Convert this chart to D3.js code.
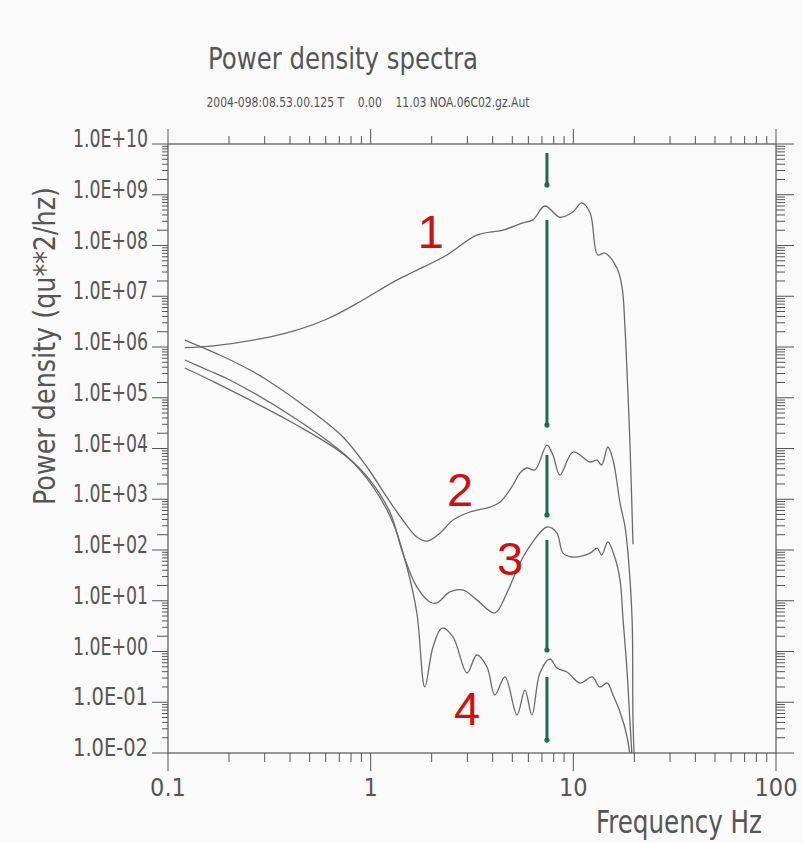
<!DOCTYPE html>
<html>
<head>
<meta charset="utf-8">
<script src="https://cdn.jsdelivr.net/npm/d3@7"></script>
<style>
  body { margin: 0; background: #fafafa; }
  text { font-family: "Liberation Sans Narrow", "DejaVu Sans Condensed", "Liberation Sans", sans-serif; fill: #555; }
</style>
</head>
<body>
<script>
// values (Hz, qu**2/hz)
var freq1 = [0.121, 0.167, 0.284, 0.414, 0.609, 0.885, 1.29, 1.62, 2.38, 3.34, 4.49, 5.64, 6.32, 7.24, 8.59, 9.96, 11.0, 12.1, 13.2, 14.3, 16.4, 17.4, 18.0, 18.6, 19.0, 19.7];
var psd1  = [9.7e5, 1.05e6, 1.44e6, 2.05e6, 3.56e6, 7.8e6, 1.9e7, 3.0e7, 6.5e7, 1.6e8, 2.0e8, 2.8e8, 3.2e8, 6.0e8, 3.6e8, 4.6e8, 6.9e8, 4.4e8, 6.5e7, 7.1e7, 3.6e7, 1.5e7, 2.2e6, 1.2e5, 1.5e4, 130];

var freq2 = [0.121, 0.180, 0.254, 0.308, 0.502, 0.730, 0.959, 1.20, 1.44, 1.69, 1.90, 2.20, 2.55, 3.09, 3.88, 4.35, 5.04, 5.45, 5.90, 6.47, 7.41, 7.93, 8.59, 9.96, 12.1, 13.1, 13.8, 14.8, 15.7, 17.0, 18.0, 18.6, 19.5, 19.7, 20.1];
var psd2  = [1.37e6, 6.95e5, 3.52e5, 2.24e5, 5.74e4, 1.69e4, 4320, 1110, 390, 180, 150, 216, 390, 561, 703, 883, 1910, 3290, 4130, 3770, 1.17e4, 7450, 3010, 8530, 5420, 5930, 4730, 1.07e4, 5930, 843, 284, 87, 4.2, 0.045, 0.004];

var freq3 = [0.121, 0.161, 0.202, 0.414, 0.730, 0.992, 1.25, 1.44, 1.69, 1.96, 2.12, 2.46, 2.85, 3.34, 4.10, 4.70, 5.45, 6.25, 7.41, 8.30, 8.89, 9.96, 12.1, 13.1, 13.8, 14.8, 16.0, 17.0, 17.6, 18.4, 19.0, 19.7];
var psd3  = [5.55e5, 3.37e5, 2.24e5, 4.18e4, 8150, 2390, 536, 87, 18.7, 9.44, 9.03, 14.9, 16.3, 10.4, 5.74, 14.2, 55.4, 137, 284, 216, 87, 72.8, 87, 109, 79.6, 144, 72.8, 25.6, 4.2, 0.43, 0.045, 0.004];

var freq4 = [0.121, 0.161, 0.414, 0.764, 1.03, 1.29, 1.51, 1.69, 1.85, 2.03, 2.25, 2.55, 2.99, 3.34, 3.75, 4.10, 4.60, 5.27, 5.77, 6.25, 6.84, 7.67, 8.30, 9.30, 10.8, 12.4, 13.5, 14.7, 15.7, 17.0, 18.4, 19.5];
var psd4  = [3.86e5, 2.24e5, 3.18e4, 6810, 1740, 340, 46.2, 5.74, 0.20, 1.23, 2.90, 1.93, 0.377, 0.853, 0.495, 0.139, 0.315, 0.056, 0.174, 0.056, 0.377, 0.711, 0.473, 0.394, 0.239, 0.315, 0.20, 0.239, 0.139, 0.064, 0.021, 0.004];

var curveNames = ["1", "2", "3", "4"];
// where the red numbers sit (baseline centre): frequency, power density
var labelFreq = [1.98, 2.76, 4.87, 2.99];
var labelPsd  = [8.9e7, 736, 32, 0.0356];

// green marker at the 7 Hz peak, broken where the curves pass
var markerFreq = 7.41;
var markerLow  = [1.56e9, 2.9e4, 490, 1.07, 0.018];
var markerHigh = [6.65e9, 3.18e8, 7450, 157, 0.315];

var xTickValues = [0.1, 1, 10, 100];
var xTickLabels = ["0.1", "1", "10", "100"];
var yTickValues = [1e10, 1e9, 1e8, 1e7, 1e6, 1e5, 1e4, 1e3, 1e2, 1e1, 1e0, 1e-1, 1e-2];
var yTickLabels = ["1.0E+10", "1.0E+09", "1.0E+08", "1.0E+07", "1.0E+06", "1.0E+05", "1.0E+04",
                   "1.0E+03", "1.0E+02", "1.0E+01", "1.0E+00", "1.0E-01", "1.0E-02"];

var w = 803, h = 843;
var pLeft = 168, pRight = 776, pTop = 144, pBottom = 753;

var svg = d3.select("body")
            .append("svg")
            .attr("width", w)
            .attr("height", h);

var x = d3.scaleLog().domain([0.1, 100]).range([pLeft, pRight]);
var y = d3.scaleLog().domain([1e-2, 1e10]).range([pBottom, pTop]);

var axisColor = "#555";

// minor tick values (2..9 in every decade)
var xMinor = [];
[0.1, 1, 10].forEach(function(d) { for (var k = 2; k <= 9; k++) xMinor.push(d * k); });
var yMinor = [];
for (var e = -2; e < 10; e++) for (var k = 2; k <= 9; k++) yMinor.push(k * Math.pow(10, e));

// frame
svg.append("rect")
    .attr("x", pLeft).attr("y", pTop)
    .attr("width", pRight - pLeft).attr("height", pBottom - pTop)
    .attr("fill", "none")
    .attr("stroke", axisColor)
    .attr("stroke-width", 1.2);

var ticks = svg.append("g").attr("stroke", axisColor).attr("stroke-width", 1);

// bottom: ticks downward
ticks.selectAll(".xb").data(xMinor).enter().append("line")
    .attr("x1", d => x(d)).attr("x2", d => x(d))
    .attr("y1", pBottom).attr("y2", pBottom + 9);
ticks.selectAll(".xbm").data(xTickValues).enter().append("line")
    .attr("x1", d => x(d)).attr("x2", d => x(d))
    .attr("y1", pBottom).attr("y2", pBottom + 18);
// top: ticks upward
ticks.selectAll(".xt").data(xMinor).enter().append("line")
    .attr("x1", d => x(d)).attr("x2", d => x(d))
    .attr("y1", pTop).attr("y2", pTop - 8);
ticks.selectAll(".xtm").data(xTickValues).enter().append("line")
    .attr("x1", d => x(d)).attr("x2", d => x(d))
    .attr("y1", pTop).attr("y2", pTop - 15);
// left: ticks outward
ticks.selectAll(".yl").data(yMinor).enter().append("line")
    .attr("x1", pLeft).attr("x2", d => String(d)[0] === "2" ? pLeft - 11 : pLeft - 6)
    .attr("y1", d => y(d)).attr("y2", d => y(d));
ticks.selectAll(".ylm").data(yTickValues).enter().append("line")
    .attr("x1", pLeft).attr("x2", pLeft - 16)
    .attr("y1", d => y(d)).attr("y2", d => y(d));
// right: ticks outward
ticks.selectAll(".yr").data(yMinor).enter().append("line")
    .attr("x1", pRight).attr("x2", pRight + 9)
    .attr("y1", d => y(d)).attr("y2", d => y(d));
ticks.selectAll(".yrm").data(yTickValues).enter().append("line")
    .attr("x1", pRight).attr("x2", pRight + 18)
    .attr("y1", d => y(d)).attr("y2", d => y(d));

// tick labels
svg.selectAll(".ylab").data(yTickValues).enter().append("text")
    .attr("x", 148)
    .attr("y", d => y(d) + 3)
    .attr("text-anchor", "end")
    .attr("font-size", 24)
    .attr("textLength", 75).attr("lengthAdjust", "spacingAndGlyphs")
    .text((d, i) => yTickLabels[i]);

svg.selectAll(".xlab").data(xTickValues).enter().append("text")
    .attr("x", d => x(d))
    .attr("y", 796)
    .attr("text-anchor", "middle")
    .attr("font-size", 25)
    .text((d, i) => xTickLabels[i]);

// titles
svg.append("text")
    .attr("x", 343).attr("y", 69)
    .attr("text-anchor", "middle")
    .attr("font-size", 30)
    .attr("textLength", 270).attr("lengthAdjust", "spacingAndGlyphs")
    .text("Power density spectra");

svg.append("text")
    .attr("x", 368).attr("y", 107)
    .attr("text-anchor", "middle")
    .attr("font-size", 14)
    .attr("textLength", 323).attr("lengthAdjust", "spacingAndGlyphs")
    .style("white-space", "pre")
    .text("2004-098:08.53.00.125 T    0.00    11.03 NOA.06C02.gz.Aut");

svg.append("text")
    .attr("transform", "translate(55,346) rotate(-90)")
    .attr("text-anchor", "middle")
    .attr("font-size", 30)
    .attr("textLength", 318).attr("lengthAdjust", "spacingAndGlyphs")
    .text("Power density (qu**2/hz)");

svg.append("text")
    .attr("x", 679).attr("y", 833)
    .attr("text-anchor", "middle")
    .attr("font-size", 32)
    .attr("textLength", 166).attr("lengthAdjust", "spacingAndGlyphs")
    .text("Frequency Hz");

// curves
svg.append("clipPath").attr("id", "plotclip")
  .append("rect")
    .attr("x", pLeft).attr("y", pTop)
    .attr("width", pRight - pLeft).attr("height", pBottom - pTop);

var line = d3.line()
    .x(d => x(d[0]))
    .y(d => y(d[1]))
    .curve(d3.curveCatmullRom.alpha(0.5));

var series = [[freq1, psd1], [freq2, psd2], [freq3, psd3], [freq4, psd4]];

svg.append("g")
    .attr("clip-path", "url(#plotclip)")
  .selectAll("path")
  .data(series)
  .enter()
  .append("path")
    .attr("d", s => line(s[0].map((f, i) => [f, s[1][i]])))
    .attr("fill", "none")
    .attr("stroke", "#6a6a6a")
    .attr("stroke-width", 1.3);

// green marker segments
var mk = svg.append("g");
mk.selectAll("line").data(markerLow).enter().append("line")
    .attr("x1", x(markerFreq)).attr("x2", x(markerFreq))
    .attr("y1", d => y(d))
    .attr("y2", (d, i) => y(markerHigh[i]))
    .attr("stroke", "#1d6b50")
    .attr("stroke-width", 3);
mk.selectAll("circle").data(markerLow).enter().append("circle")
    .attr("cx", x(markerFreq))
    .attr("cy", d => y(d))
    .attr("r", 2.6)
    .attr("fill", "#1d6b50");

// red curve numbers
svg.selectAll(".num").data(curveNames).enter().append("text")
    .attr("x", (d, i) => x(labelFreq[i]))
    .attr("y", (d, i) => y(labelPsd[i]))
    .attr("text-anchor", "middle")
    .attr("font-size", 47)
    .style("font-family", "'Liberation Sans', Arial, sans-serif")
    .style("fill", "#cc1111")
    .text(d => d);
</script>
</body>
</html>
